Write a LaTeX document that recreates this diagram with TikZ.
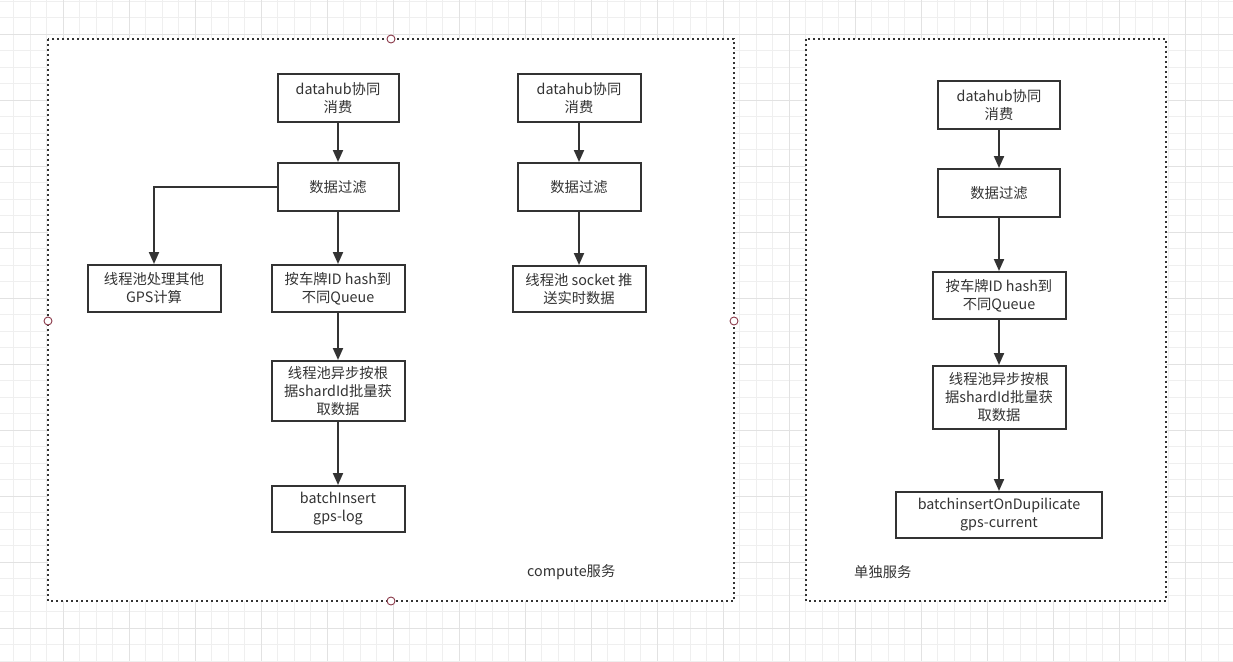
\documentclass[tikz,border=0pt]{standalone}
\usepackage{fontspec}
\setmainfont{Noto Sans CJK SC}
\usetikzlibrary{arrows.meta}
\definecolor{ink}{HTML}{333333}
\definecolor{gridminor}{HTML}{EFEFEF}
\definecolor{gridmajor}{HTML}{E2E2E2}
\definecolor{handle}{HTML}{8B3A4A}
\tikzset{
  box/.style={draw=ink, line width=2pt, fill=white, text=ink, align=center,
    inner sep=0pt, font=\fontsize{14.3}{18}\selectfont},
  flow/.style={draw=ink, line width=2pt, -{Triangle[length=12pt,width=10pt]}},
  container/.style={draw=ink, line width=2pt, dash pattern=on 2pt off 3pt, fill=white},
  hnd/.style={circle, draw=handle, fill=white, line width=0.9pt, minimum size=8pt, inner sep=0pt},
  lbl/.style={text=ink, font=\fontsize{14.3}{18}\selectfont, inner sep=0pt}
}
\begin{document}
\begin{tikzpicture}[x=1pt,y=-1pt]
\useasboundingbox (0,0) rectangle (1233,661);
\fill[white] (0,0) rectangle (1233,661);
% grid
\foreach \i in {-4,...,75} {
  \draw[gridminor, line width=0.8pt] ({63+16.5*\i},0) -- ({63+16.5*\i},661);
}
\foreach \i in {-3,...,38} {
  \draw[gridminor, line width=0.8pt] (0,{34+16.5*\i}) -- (1233,{34+16.5*\i});
}
\foreach \i in {-1,...,18} {
  \draw[gridmajor, line width=0.8pt] ({63+66*\i},0) -- ({63+66*\i},661);
}
\foreach \i in {-1,...,10} {
  \draw[gridmajor, line width=0.8pt] (0,{34+66*\i}) -- (1233,{34+66*\i});
}
% containers
\draw[container] (48,39) rectangle (734,601);
\draw[container] (806,39) rectangle (1166,601);

% left column
\node[box, minimum width=121pt, minimum height=48pt] (a1) at (338,98) {datahub协同\\消费};
\node[box, minimum width=121pt, minimum height=48pt] (a2) at (338,187) {数据过滤};
\node[box, minimum width=133pt, minimum height=47pt] (a3) at (154,288.5) {线程池处理其他\\GPS计算};
\node[box, minimum width=133pt, minimum height=47pt] (a4) at (338,288.5) {按车牌ID hash到\\不同Queue};
\node[box, minimum width=133pt, minimum height=60pt] (a5) at (338,391) {线程池异步按根\\据shardId批量获\\取数据};
\node[box, minimum width=133pt, minimum height=46pt] (a6) at (338,509) {batchInsert\\gps-log};

% middle column
\node[box, minimum width=123pt, minimum height=48pt] (b1) at (579,98) {datahub协同\\消费};
\node[box, minimum width=123pt, minimum height=48pt] (b2) at (579,187) {数据过滤};
\node[box, minimum width=133pt, minimum height=46pt] (b3) at (579,289) {线程池 socket 推\\送实时数据};

% right column
\node[box, minimum width=122pt, minimum height=48pt] (c1) at (999,105) {datahub协同\\消费};
\node[box, minimum width=122pt, minimum height=48pt] (c2) at (999,193) {数据过滤};
\node[box, minimum width=133pt, minimum height=47pt] (c3) at (999,295.5) {按车牌ID hash到\\不同Queue};
\node[box, minimum width=133pt, minimum height=63pt] (c4) at (999,397.5) {线程池异步按根\\据shardId批量获\\取数据};
\node[box, minimum width=206pt, minimum height=46pt] (c5) at (999,515) {batchinsertOnDupilicate\\gps-current};

% labels
\node[lbl, anchor=west] (l1) at (527,572) {compute服务};
\node[lbl, anchor=west] (l2) at (854,572) {单独服务};

% connectors
\draw[flow] (a1) -- (a2);
\draw[flow] (a2) -- (a4);
\draw[flow] (a2.west) -| (a3.north);
\draw[flow] (a4) -- (a5);
\draw[flow] (a5) -- (a6);
\draw[flow] (b1) -- (b2);
\draw[flow] (b2) -- (b3);
\draw[flow] (c1) -- (c2);
\draw[flow] (c2) -- (c3);
\draw[flow] (c3) -- (c4);
\draw[flow] (c4) -- (c5);

% selection handles
\node[hnd] (h1) at (391,39) {};
\node[hnd] (h2) at (48,321) {};
\node[hnd] (h3) at (734,321) {};
\node[hnd] (h4) at (391,601) {};
\end{tikzpicture}
\end{document}
